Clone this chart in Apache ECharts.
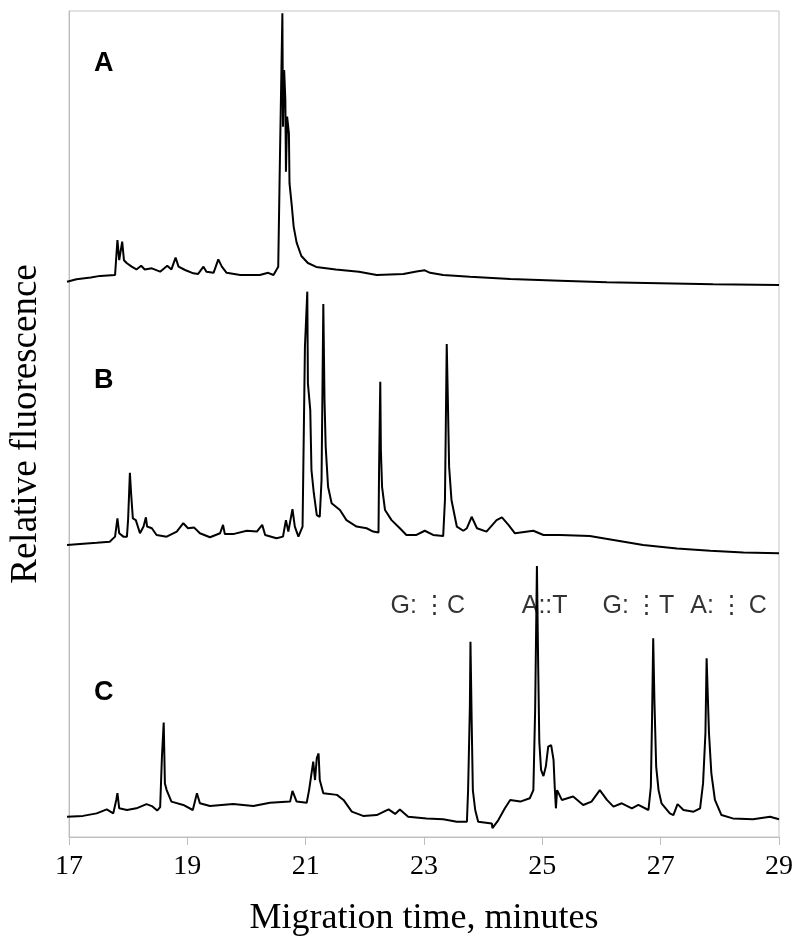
<!DOCTYPE html>
<html>
<head>
<meta charset="utf-8">
<script src="https://cdn.jsdelivr.net/npm/echarts@6.0.0/dist/echarts.min.js"></script>
<style>
  html, body { margin: 0; padding: 0; background: #fff; }
  #chart { width: 800px; height: 951px; }
</style>
</head>
<body>
<div id="chart"></div>
<script>
// electropherogram traces, time in minutes, signal in relative units
var xTicks = [17, 19, 21, 23, 25, 27, 29];

var timeA = [17.00, 17.16, 17.40, 17.56, 17.81, 17.85, 17.88, 17.93, 17.96, 18.01, 18.09, 18.17, 18.25, 18.31, 18.43,
  18.57, 18.69, 18.76, 18.83, 18.88, 18.99, 19.13, 19.21, 19.30, 19.35, 19.47, 19.55, 19.61, 19.69, 19.92, 20.25,
  20.39, 20.48, 20.56, 20.59, 20.63, 20.64, 20.66, 20.68, 20.69, 20.71, 20.74, 20.75, 20.79, 20.82, 20.87, 20.95,
  21.06, 21.20, 21.53, 21.92, 22.22, 22.67, 22.89, 23.03, 23.12, 23.34, 23.79, 24.47, 25.31, 26.10, 26.99, 27.89, 29.00];
var sigA = [3.3, 4.2, 4.8, 5.4, 5.7, 18.2, 11.0, 17.6, 11.0, 9.9, 8.7, 7.7, 9.0, 7.7, 8.1,
  6.9, 9.0, 7.7, 11.9, 8.7, 7.5, 6.3, 6.1, 8.7, 6.9, 6.5, 11.3, 8.7, 6.5, 5.7, 5.7,
  6.5, 5.7, 8.7, 49.0, 99.2, 58.7, 78.9, 68.2, 42.6, 62.3, 56.3, 38.5, 30.1, 23.0, 17.3, 12.5,
  10.0, 8.6, 7.7, 6.9, 5.7, 6.1, 7.0, 7.4, 6.5, 5.7, 5.1, 4.3, 3.7, 3.1, 2.75, 2.4, 2.1];

var timeB = [17.00, 17.22, 17.50, 17.72, 17.81, 17.85, 17.88, 17.95, 18.01, 18.03, 18.06, 18.08, 18.11, 18.16, 18.23,
  18.29, 18.33, 18.35, 18.43, 18.51, 18.68, 18.85, 18.96, 19.04, 19.14, 19.24, 19.41, 19.58, 19.63, 19.66, 19.80,
  20.03, 20.20, 20.29, 20.34, 20.53, 20.64, 20.69, 20.73, 20.80, 20.84, 20.90, 20.97, 21.01, 21.05, 21.06, 21.10,
  21.12, 21.16, 21.21, 21.26, 21.29, 21.32, 21.34, 21.36, 21.40, 21.46, 21.60, 21.71, 21.88, 22.05, 22.16, 22.25,
  22.26, 22.28, 22.29, 22.31, 22.36, 22.47, 22.61, 22.72, 22.89, 23.03, 23.17, 23.34, 23.37, 23.40, 23.42, 23.44,
  23.48, 23.57, 23.68, 23.74, 23.82, 23.91, 24.07, 24.24, 24.33, 24.44, 24.55, 24.86, 25.03, 25.31, 25.81, 26.21,
  26.71, 27.28, 27.84, 28.40, 29.00];
var sigB = [5.7, 6.1, 6.5, 6.9, 8.7, 15.2, 9.9, 8.7, 8.7, 14.9, 31.5, 24.2, 15.2, 14.6, 9.9,
  12.3, 15.6, 12.3, 11.7, 9.3, 8.7, 10.5, 13.5, 11.7, 12.0, 9.9, 8.5, 9.9, 12.9, 9.6, 9.6,
  10.8, 10.5, 12.9, 9.3, 8.1, 8.7, 14.6, 10.5, 18.5, 12.3, 8.7, 12.3, 76.5, 96.2, 63.5, 53.9,
  32.5, 24.2, 16.4, 15.8, 28.9, 91.8, 57.5, 40.8, 26.5, 20.6, 18.2, 14.6, 12.3, 11.7, 10.5, 10.2,
  33.7, 64.0, 39.6, 26.5, 18.2, 14.6, 11.7, 9.3, 9.3, 10.8, 9.3, 8.9, 21.8, 77.5, 56.3, 33.7,
  21.8, 12.3, 10.8, 11.7, 15.8, 11.7, 10.5, 14.6, 15.6, 12.9, 9.9, 10.8, 9.3, 9.3, 8.9, 7.5,
  5.7, 4.5, 3.7, 3.0, 2.75];

var timeC = [17.00, 17.27, 17.50, 17.67, 17.78, 17.83, 17.85, 17.88, 18.01, 18.17, 18.34, 18.43, 18.52, 18.57, 18.60,
  18.63, 18.65, 18.68, 18.76, 18.96, 19.12, 19.19, 19.24, 19.41, 19.80, 20.14, 20.42, 20.76, 20.80, 20.87, 21.04,
  21.08, 21.15, 21.18, 21.21, 21.24, 21.26, 21.32, 21.55, 21.66, 21.80, 21.99, 22.22, 22.42, 22.53, 22.61, 22.75,
  23.06, 23.34, 23.57, 23.74, 23.76, 23.79, 23.80, 23.82, 23.84, 23.88, 23.93, 24.16, 24.17, 24.27, 24.38, 24.47,
  24.64, 24.80, 24.86, 24.89, 24.92, 24.94, 24.96, 24.99, 25.03, 25.07, 25.11, 25.16, 25.20, 25.22, 25.24, 25.26,
  25.34, 25.53, 25.70, 25.84, 25.98, 26.10, 26.21, 26.35, 26.52, 26.63, 26.80, 26.84, 26.86, 26.88, 26.90, 26.93,
  26.97, 27.02, 27.16, 27.22, 27.29, 27.39, 27.56, 27.67, 27.72, 27.76, 27.78, 27.81, 27.82, 27.86, 27.92, 28.03,
  28.22, 28.56, 28.85, 29.00];
var sigC = [7.6, 7.9, 8.8, 10.2, 8.8, 13.6, 16.0, 10.6, 10.0, 10.6, 12.1, 11.4, 9.8, 11.0, 29.0,
  41.2, 19.5, 17.1, 13.0, 11.8, 10.0, 16.0, 12.4, 11.4, 12.1, 11.4, 12.6, 13.0, 16.8, 13.0, 12.6,
  17.1, 27.3, 20.7, 28.5, 30.2, 20.7, 16.0, 15.4, 13.6, 9.4, 7.9, 8.2, 10.2, 8.6, 10.2, 7.6,
  7.0, 6.7, 5.8, 5.8, 17.1, 46.9, 70.1, 42.1, 17.1, 10.0, 5.8, 5.2, 3.5, 6.4, 10.6, 13.6,
  13.0, 14.2, 17.1, 45.7, 97.1, 63.6, 34.4, 24.3, 22.1, 25.5, 32.6, 33.2, 27.9, 18.3, 10.6, 17.1,
  13.6, 14.8, 11.8, 13.0, 17.1, 13.6, 11.2, 12.4, 10.6, 11.8, 10.0, 18.3, 42.1, 71.3, 49.3, 25.5,
  17.1, 12.4, 8.8, 8.2, 12.1, 10.0, 9.4, 10.6, 19.5, 37.4, 64.2, 63.6, 37.4, 23.1, 13.6, 8.2,
  7.0, 6.7, 7.6, 6.7];

var traceLabels = ['A', 'B', 'C'];
var pairLabels = ['G:\u2009\u22EEC', 'A::T', 'G:\u2009\u22EET', 'A:\u2009\u22EE\u2009C'];
var pairTimes = [23.08, 25.05, 26.63, 28.15];

function zip(t, v) {
  return t.map(function (x, i) { return [x, v[i]]; });
}

var chart = echarts.init(document.getElementById('chart'));

var serif = 'Liberation Serif, Times New Roman, serif';
var sans = 'Liberation Sans, Arial, sans-serif';

// grid 0 is the frame with the visible axes, grids 1-3 hold the stacked traces
var frame = { left: 67, top: 11, width: 712, height: 826 };
var bands = [11, 281, 558];

var grids = [{
  left: frame.left, top: frame.top, width: frame.width, height: frame.height,
  show: true, borderColor: '#c4c4c4', borderWidth: 1, backgroundColor: 'transparent'
}];
var xAxes = [{
  gridIndex: 0, type: 'value', min: 17, max: 29, interval: 2,
  axisLine: { lineStyle: { color: '#bdbdbd', width: 1 } },
  axisTick: { length: 8, lineStyle: { color: '#bdbdbd' } },
  splitLine: { show: false },
  axisLabel: { margin: 16, color: '#000', fontSize: 28, fontFamily: serif },
  name: 'Migration time, minutes', nameLocation: 'middle', nameGap: 64,
  nameTextStyle: { color: '#000', fontSize: 36, fontFamily: serif }
}];
var yAxes = [{
  gridIndex: 0, type: 'value', min: 0, max: 1,
  axisLine: { show: true, lineStyle: { color: '#bdbdbd', width: 1 } },
  axisTick: { show: false }, axisLabel: { show: false }, splitLine: { show: false },
  name: 'Relative fluorescence', nameLocation: 'middle', nameGap: 24,
  nameTextStyle: { color: '#000', fontSize: 37, fontFamily: serif }
}];

var traces = [zip(timeA, sigA), zip(timeB, sigB), zip(timeC, sigC)];
var series = [];
bands.forEach(function (top, i) {
  grids.push({ left: frame.left, top: top, width: frame.width, height: 280 });
  xAxes.push({ gridIndex: i + 1, type: 'value', min: 17, max: 29, show: false });
  yAxes.push({ gridIndex: i + 1, type: 'value', min: 0, max: 100, show: false });
  series.push({
    name: traceLabels[i], type: 'line', xAxisIndex: i + 1, yAxisIndex: i + 1,
    data: traces[i], showSymbol: false, silent: true,
    lineStyle: { color: '#000', width: 2 }
  });
});

// pair labels sit above the peaks of trace C
series.push({
  type: 'scatter', xAxisIndex: 3, yAxisIndex: 3, symbolSize: 1, silent: true,
  itemStyle: { color: 'rgba(0,0,0,0)' },
  data: pairTimes.map(function (t, i) { return { value: [t, 78], name: pairLabels[i] }; }),
  label: {
    show: true, position: 'top', distance: 0, formatter: '{b}',
    color: '#000', textBorderWidth: 0, fontSize: 25, fontFamily: sans
  }
});

var graphics = traceLabels.map(function (s, i) {
  return {
    type: 'text', left: 94, top: [50, 367, 679][i],
    style: { text: s, fill: '#000', font: 'bold 27px ' + sans }
  };
});

chart.setOption({
  animation: false,
  grid: grids,
  xAxis: xAxes,
  yAxis: yAxes,
  series: series,
  graphic: graphics
});
</script>
</body>
</html>
